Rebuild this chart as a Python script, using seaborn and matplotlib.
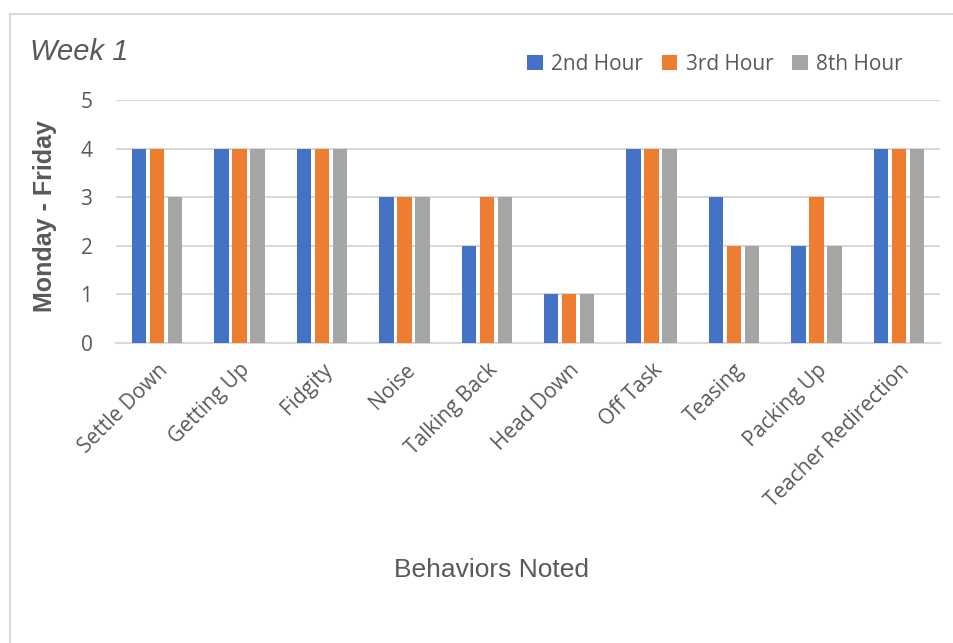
import matplotlib
matplotlib.use("Agg")
import matplotlib.pyplot as plt
from matplotlib.lines import Line2D
from matplotlib.patches import Patch
import seaborn as sns
import pandas as pd

behaviors = ["Settle Down", "Getting Up", "Fidgity", "Noise", "Talking Back",
             "Head Down", "Off Task", "Teasing", "Packing Up", "Teacher Redirection"]
hour_2nd = [4, 4, 4, 3, 2, 1, 4, 3, 2, 4]
hour_3rd = [4, 4, 4, 3, 3, 1, 4, 2, 3, 4]
hour_8th = [3, 4, 4, 3, 3, 1, 4, 2, 2, 4]
series_names = ["2nd Hour", "3rd Hour", "8th Hour"]
y_ticks = [0, 1, 2, 3, 4, 5]

colors = ["#4472C4", "#ED7D31", "#A5A5A5"]
text_color = "#595959"
grid_color = "#D9D9D9"

df = pd.DataFrame({
    "Behavior": behaviors * 3,
    "Count": hour_2nd + hour_3rd + hour_8th,
    "Class": [s for s in series_names for _ in behaviors],
})

sns.set_theme(style="white")
plt.rcParams["font.family"] = ["Open Sans", "DejaVu Sans"]

fig = plt.figure(figsize=(9.54, 6.43), dpi=100)
ax = fig.add_axes([116 / 954, 1 - 343 / 643, (940 - 116) / 954, (343 - 100) / 643])

sns.barplot(data=df, x="Behavior", y="Count", hue="Class", order=behaviors,
            hue_order=series_names, palette=colors, width=0.655, gap=0.2,
            saturation=1, ax=ax, legend=False, edgecolor="none", zorder=3)

ax.set_ylim(0, 5)
ax.set_yticks(y_ticks)
ax.set_xlim(-0.5, len(behaviors) - 0.5)
ax.yaxis.grid(True, color=grid_color, linewidth=1.5, zorder=0)
ax.set_axisbelow(True)
for side in ["top", "right", "left"]:
    ax.spines[side].set_visible(False)
ax.spines["bottom"].set_color(grid_color)
ax.spines["bottom"].set_linewidth(1.5)
ax.set_xlabel("")
ax.set_ylabel("")
ax.tick_params(axis="y", length=0, pad=17, labelsize=15, labelcolor=text_color)
ax.tick_params(axis="x", length=0, pad=12, labelsize=15, labelcolor=text_color)
ax.set_xticks(range(len(behaviors)))
ax.set_xticklabels(behaviors, rotation=45, ha="right", va="top",
                   rotation_mode="anchor")

# Chart title and axis titles
fig.text(30 / 954, 1 - 60 / 643, "Week 1", fontsize=21, style="italic",
         color=text_color, family=["Liberation Sans", "DejaVu Sans"],
         ha="left", va="baseline")
fig.text(45 / 954, 1 - 216 / 643, "Monday - Friday", fontsize=18, weight="bold",
         color=text_color, family=["Liberation Sans", "DejaVu Sans"],
         rotation=90, ha="center", va="center")
fig.text(491 / 954, 1 - 570 / 643, "Behaviors Noted", fontsize=19,
         color=text_color, family=["Liberation Sans Narrow", "Liberation Sans", "DejaVu Sans"],
         ha="center", va="center")

# Legend across the top
handles = [Patch(facecolor=c, edgecolor="none") for c in colors]
fig.legend(handles, series_names, loc="center", bbox_to_anchor=(715 / 954, 1 - 64 / 643),
           ncol=3, frameon=False, fontsize=15, labelcolor=text_color,
           handlelength=0.75, handleheight=0.75, handletextpad=0.4, columnspacing=0.9)

# Chart area border
fig.add_artist(Line2D([10 / 954, 10 / 954], [0, 1 - 14 / 643], transform=fig.transFigure,
                      color=grid_color, linewidth=1.5))
fig.add_artist(Line2D([10 / 954, 1], [1 - 14 / 643, 1 - 14 / 643], transform=fig.transFigure,
                      color=grid_color, linewidth=1.5))

fig.savefig("out.png", dpi=100)
